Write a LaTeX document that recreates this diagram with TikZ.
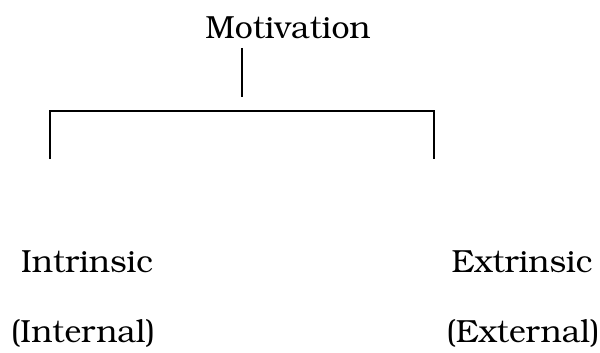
\documentclass[tikz,border=0pt]{standalone}
\usepackage[T1]{fontenc}
\usepackage{bookman}
\usepackage{tikz}

\begin{document}
\begin{tikzpicture}[x=0.75pt,y=-0.75pt,
  word/.style={inner sep=0pt, anchor=base, font=\fontsize{24}{28}\selectfont}]
\useasboundingbox (0,0) rectangle (600,353);
\node[word] (motiv) at (288,39) {Motivation};
\node[word] (intr) at (87,272) {Intrinsic};
\node[word] (extr) at (522,272) {Extrinsic};
\node[word] (inte) at (83,342) {(Internal)};
\node[word] (exte) at (523,342) {(External)};
\coordinate (stemtop) at (242,48);
\coordinate (stembot) at (242,97);
\coordinate (lfoot) at (50,159);
\coordinate (rfoot) at (434,159);
\coordinate (bar) at (242,111);
\path[draw,line width=1pt,-] (stemtop) -- (stembot);
\path[draw,line width=1pt,-] (lfoot) |- (bar) -| (rfoot);
\end{tikzpicture}
\end{document}
